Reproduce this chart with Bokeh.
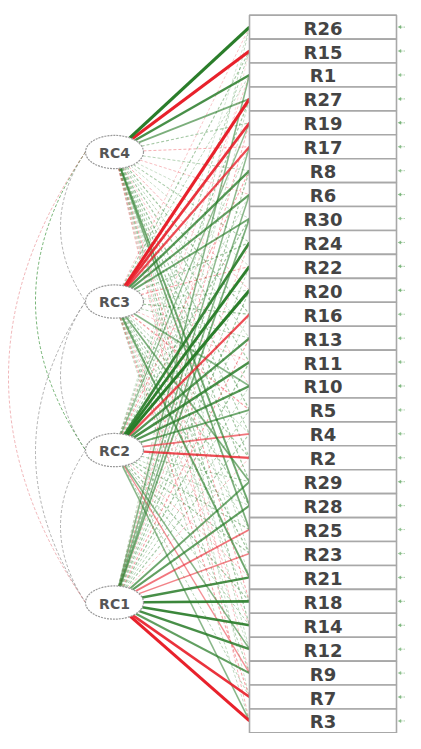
import numpy as np
from bokeh.plotting import figure
from bokeh.models import Range1d, ColumnDataSource
from bokeh.core.properties import value
from bokeh.embed import file_html
from bokeh.resources import INLINE

# ---------------- data ----------------
factors = ["RC1", "RC2", "RC3", "RC4"]
items = ["R26", "R15", "R1", "R27", "R19", "R17", "R8", "R6", "R30", "R24",
         "R22", "R20", "R16", "R13", "R11", "R10", "R5", "R4", "R2", "R29",
         "R28", "R25", "R23", "R21", "R18", "R14", "R12", "R9", "R7", "R3"]

load_RC1 = [0.12, -0.05, 0.30, 0.10, -0.15, 0.28, 0.20, 0.30, 0.35, -0.12,
            0.14, 0.20, 0.10, -0.18, 0.22, 0.12, 0.15, 0.18, -0.12, 0.40,
            0.45, -0.35, -0.30, 0.55, 0.60, 0.60, 0.55, 0.45, -0.60, -0.70]
load_RC2 = [0.08, 0.15, -0.10, 0.20, 0.25, 0.12, -0.18, 0.10, 0.22, 0.60,
            0.65, 0.70, -0.50, 0.50, 0.55, 0.50, 0.40, -0.35, -0.50, 0.16,
            0.12, 0.20, 0.18, -0.14, 0.20, 0.15, 0.30, -0.25, 0.14, 0.30]
load_RC3 = [-0.10, 0.18, 0.12, -0.72, -0.60, -0.50, 0.50, 0.45, 0.40, 0.20,
            -0.18, 0.12, 0.22, 0.15, -0.10, 0.30, -0.20, 0.14, 0.18, 0.35,
            0.18, 0.14, 0.22, 0.40, 0.12, -0.12, 0.10, 0.16, -0.18, 0.12]
load_RC4 = [0.75, -0.70, 0.55, 0.35, 0.18, -0.15, 0.14, -0.12, 0.10, 0.16,
            0.10, -0.14, 0.20, 0.12, 0.18, -0.10, 0.22, 0.16, 0.20, 0.20,
            0.40, 0.35, 0.12, 0.10, -0.16, 0.20, 0.12, -0.12, 0.10, -0.14]

# residual variances of the items
residuals = [0.35, 0.45, 0.55, 0.40, 0.35, 0.50, 0.55, 0.40, 0.60, 0.45,
             0.40, 0.35, 0.55, 0.50, 0.50, 0.40, 0.60, 0.55, 0.55, 0.40,
             0.55, 0.60, 0.55, 0.50, 0.40, 0.40, 0.55, 0.55, 0.45, 0.50]

# factor correlations (pair, value)
corr_pairs = [("RC4", "RC3"), ("RC3", "RC2"), ("RC2", "RC1"),
              ("RC4", "RC2"), ("RC3", "RC1"), ("RC4", "RC1")]
corr_vals = [0.12, 0.10, 0.08, 0.18, 0.10, -0.12]

# ---------------- layout ----------------
W, H = 405, 733
p = figure(width=W, height=H, output_backend="svg", toolbar_location=None,
           x_range=Range1d(0, W), y_range=Range1d(750, 0),
           min_border=0, background_fill_color="white")
p.axis.visible = False
p.grid.visible = False
p.outline_line_color = None

fac_x = 114.0
fac_y = {"RC4": 155.0, "RC3": 308.0, "RC2": 460.0, "RC1": 616.0}
ea, eb = 29.0, 17.0   # ellipse semi axes

box_left, box_right = 249.0, 396.0
box_h = 24.48
item_y = np.array([15 + box_h / 2 + box_h * i for i in range(len(items))])

# ---------------- factor correlation arcs ----------------
bulge = {1: 60.0, 2: 35.0, 3: 8.0}
order = ["RC4", "RC3", "RC2", "RC1"]
for (a, b), v in zip(corr_pairs, corr_vals):
    gap = abs(order.index(a) - order.index(b))
    x0 = fac_x - ea
    y0, y1 = fac_y[a], fac_y[b]
    cx = 2 * bulge[gap] - x0
    col = "#2b8a2b" if v > 0 else "#e8212b"
    if abs(v) < 0.15:
        col = "#888888" if v > 0 else "#e88a90"
    p.quadratic(x0=[x0], y0=[y0], x1=[x0], y1=[y1], cx=[cx], cy=[(y0 + y1) / 2],
                line_color=col, line_alpha=0.8, line_width=0.8, line_dash="3 2")

# ---------------- loading edges ----------------
L = np.array([load_RC1, load_RC2, load_RC3, load_RC4]).T
rows = []
for i in range(len(items)):
    for k, f in enumerate(factors):
        lam = L[i, k]
        cy = fac_y[f]
        dx = box_left - fac_x
        dy = item_y[i] - cy
        t = 1.0 / np.sqrt((dx / ea) ** 2 + (dy / eb) ** 2)
        rows.append((abs(lam), fac_x + t * dx, cy + t * dy, box_left, item_y[i], lam))
rows.sort(key=lambda r: r[0])

def edge_source(sel):
    col = ["#2a7d2a" if r[5] > 0 else "#e8212b" for r in sel]
    return ColumnDataSource(dict(
        x0=[r[1] for r in sel], y0=[r[2] for r in sel],
        x1=[r[3] for r in sel], y1=[r[4] for r in sel],
        color=col,
        alpha=[min(1.0, 0.2 + 1.2 * r[0]) for r in sel],
        width=[0.4 + 3.8 * r[0] for r in sel]))

small = [r for r in rows if r[0] < 0.25]
big = [r for r in rows if r[0] >= 0.25]
p.segment("x0", "y0", "x1", "y1", source=edge_source(small), line_color="color",
          line_alpha="alpha", line_width="width", line_dash="3 2")
p.segment("x0", "y0", "x1", "y1", source=edge_source(big), line_color="color",
          line_alpha="alpha", line_width="width")

# ---------------- residual arrows ----------------
res_alpha = [0.3 + 0.6 * (1 - r) for r in residuals]
p.segment(x0=[405] * len(items), y0=item_y, x1=[399] * len(items), y1=item_y,
          line_color="#4a9a4a", line_alpha=res_alpha, line_width=0.8, line_dash="2 1")
p.scatter(x=[399.5] * len(items), y=item_y, marker="triangle", size=4,
          angle=np.pi / 2, fill_color="#4a9a4a", line_color=None, fill_alpha=res_alpha)

# ---------------- boxes ----------------
p.rect(x=[(box_left + box_right) / 2] * len(items), y=item_y,
       width=box_right - box_left, height=box_h,
       fill_color="white", line_color="#a8a8a8", line_width=1.6)
p.text(x=[(box_left + box_right) / 2] * len(items), y=item_y + 1, text=items,
       text_font=value("DejaVu Sans"), text_font_size="18px", text_font_style="bold",
       text_color="#444444", text_align="center", text_baseline="middle")

# ---------------- factor ellipses ----------------
p.ellipse(x=[fac_x] * 4, y=[fac_y[f] for f in factors], width=2 * ea, height=2 * eb,
          fill_color="white", line_color="#999999", line_width=1.2, line_dash="2 1")
p.text(x=[fac_x] * 4, y=[fac_y[f] + 1 for f in factors], text=factors,
       text_font=value("DejaVu Sans"), text_font_size="14px", text_font_style="bold",
       text_color="#555555", text_align="center", text_baseline="middle")

open("out.html", "w").write(file_html(p, INLINE))
